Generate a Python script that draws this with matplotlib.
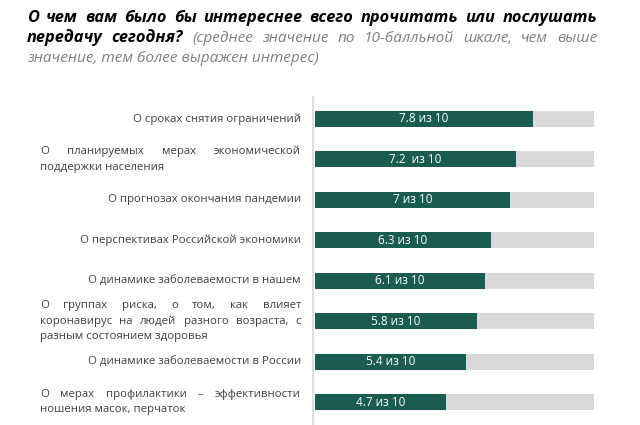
import matplotlib
matplotlib.use('Agg')
import matplotlib.pyplot as plt

# ---------------- data ----------------
categories = [
    ["О сроках снятия ограничений"],
    ["О планируемых мерах экономической", "поддержки населения"],
    ["О прогнозах окончания пандемии"],
    ["О перспективах Российской экономики"],
    ["О динамике заболеваемости в нашем"],
    ["О группах риска, о том, как влияет",
     "коронавирус на людей разного возраста, с",
     "разным состоянием здоровья"],
    ["О динамике заболеваемости в России"],
    ["О мерах профилактики – эффективности", "ношения масок, перчаток"],
]
values = [7.8, 7.2, 7.0, 6.3, 6.1, 5.8, 5.4, 4.7]
value_labels = ["7.8 из 10", "7.2  из 10", "7 из 10", "6.3 из 10",
                "6.1 из 10", "5.8 из 10", "5.4 из 10", "4.7 из 10"]
max_score = 10

title_lines = [
    [("О чем вам было бы интереснее всего прочитать или послушать", "title")],
    [("передачу сегодня?", "title"),
     ("(среднее значение по 10-балльной шкале, чем выше", "sub")],
    [("значение, тем более выражен интерес)", "sub")],
]

# ---------------- style ----------------
FONT = ['Open Sans', 'DejaVu Sans']
plt.rcParams['font.family'] = FONT
GREEN = '#1a5c4f'
GREY_BAR = '#d9d9d9'
LABEL_C = '#404040'
SUB_C = '#808080'

W, H = 640, 425
fig = plt.figure(figsize=(W / 100, H / 100), dpi=100)
fig.patch.set_facecolor('white')

ax_left, ax_right, ax_top = 313, 594, 97
ax = fig.add_axes([ax_left / W, 0, (ax_right - ax_left) / W, (H - ax_top) / H])

n = len(values)
pos = list(range(n))
row_px = 40.43
first_px = 119
ax.set_ylim((H - first_px) / row_px, -(first_px - ax_top) / row_px)
ax.set_xlim(-0.072, max_score)

bh = 16 / row_px
ax.barh(pos, [max_score] * n, height=bh, color=GREY_BAR, zorder=1)
ax.barh(pos, values, height=bh, color=GREEN, zorder=2)
for i, (v, lab) in enumerate(zip(values, value_labels)):
    ax.text(v / 2, i, lab, color='white', ha='center', va='center',
            fontsize=8.5, zorder=3)

for s in ['top', 'right', 'bottom']:
    ax.spines[s].set_visible(False)
ax.spines['left'].set_color('#d9d9d9')
ax.spines['left'].set_linewidth(1.2)
ax.set_xticks([])
ax.set_yticks([])
ax.patch.set_alpha(0)

fig.canvas.draw()
r = fig.canvas.get_renderer()


def fx(x):
    return x / W


def fy(y):
    return 1 - y / H


def measure(word, **kw):
    t = fig.text(0, 0, word, **kw)
    w = t.get_window_extent(r).width
    t.remove()
    return w


def fit_size(text, target, **kw):
    s = 10.0
    w = measure(text, fontsize=s, **kw)
    return s * target / w


def justified(words_styles, x0, x1, y, justify=True):
    widths = [measure(w, **kw) for w, kw in words_styles]
    if justify and len(words_styles) > 1:
        gap = (x1 - x0 - sum(widths)) / (len(words_styles) - 1)
    else:
        kw0 = words_styles[0][1]
        gap = measure("a a", **kw0) - measure("aa", **kw0)
    x = x0
    for (w, kw), wd in zip(words_styles, widths):
        fig.text(fx(x), fy(y), w, ha='left', va='center', **kw)
        x += wd + gap


# ---------------- labels ----------------
lab_size = fit_size(categories[0][0], 167, color=LABEL_C)
lab_kw = dict(fontsize=lab_size, color=LABEL_C)
lab_x0, lab_x1 = 40, 301
line_h = 15.5
for i, lines in enumerate(categories):
    cy = H - ax.transData.transform((0, i))[1]
    nl = len(lines)
    for k, line in enumerate(lines):
        y = cy + (k - (nl - 1) / 2) * line_h
        if nl == 1:
            fig.text(fx(lab_x1), fy(y), line, ha='right', va='center', **lab_kw)
        elif k == nl - 1:
            fig.text(fx(lab_x0), fy(y), line, ha='left', va='center', **lab_kw)
        else:
            justified([(w, lab_kw) for w in line.split()], lab_x0, lab_x1, y)

# ---------------- title ----------------
tsize = fit_size(title_lines[1][0][0], 151, fontweight='bold', fontstyle='italic')
ssize = fit_size(title_lines[2][0][0], 293, fontstyle='italic')
title_kw = dict(fontsize=tsize, fontweight='bold', fontstyle='italic', color='black')
sub_kw = dict(fontsize=ssize, fontstyle='italic', color=SUB_C)
t_x0, t_x1 = 27, 597
t_ys = [18, 38, 58]
for k, segs in enumerate(title_lines):
    if k == len(title_lines) - 1:
        text, style = segs[0]
        fig.text(fx(t_x0), fy(t_ys[k]), text, ha='left', va='center',
                 **(title_kw if style == 'title' else sub_kw))
        continue
    words = []
    for text, style in segs:
        kw = title_kw if style == 'title' else sub_kw
        words += [(w, kw) for w in text.split()]
    justified(words, t_x0, t_x1, t_ys[k])

fig.savefig('out.png', dpi=100, facecolor='white')
